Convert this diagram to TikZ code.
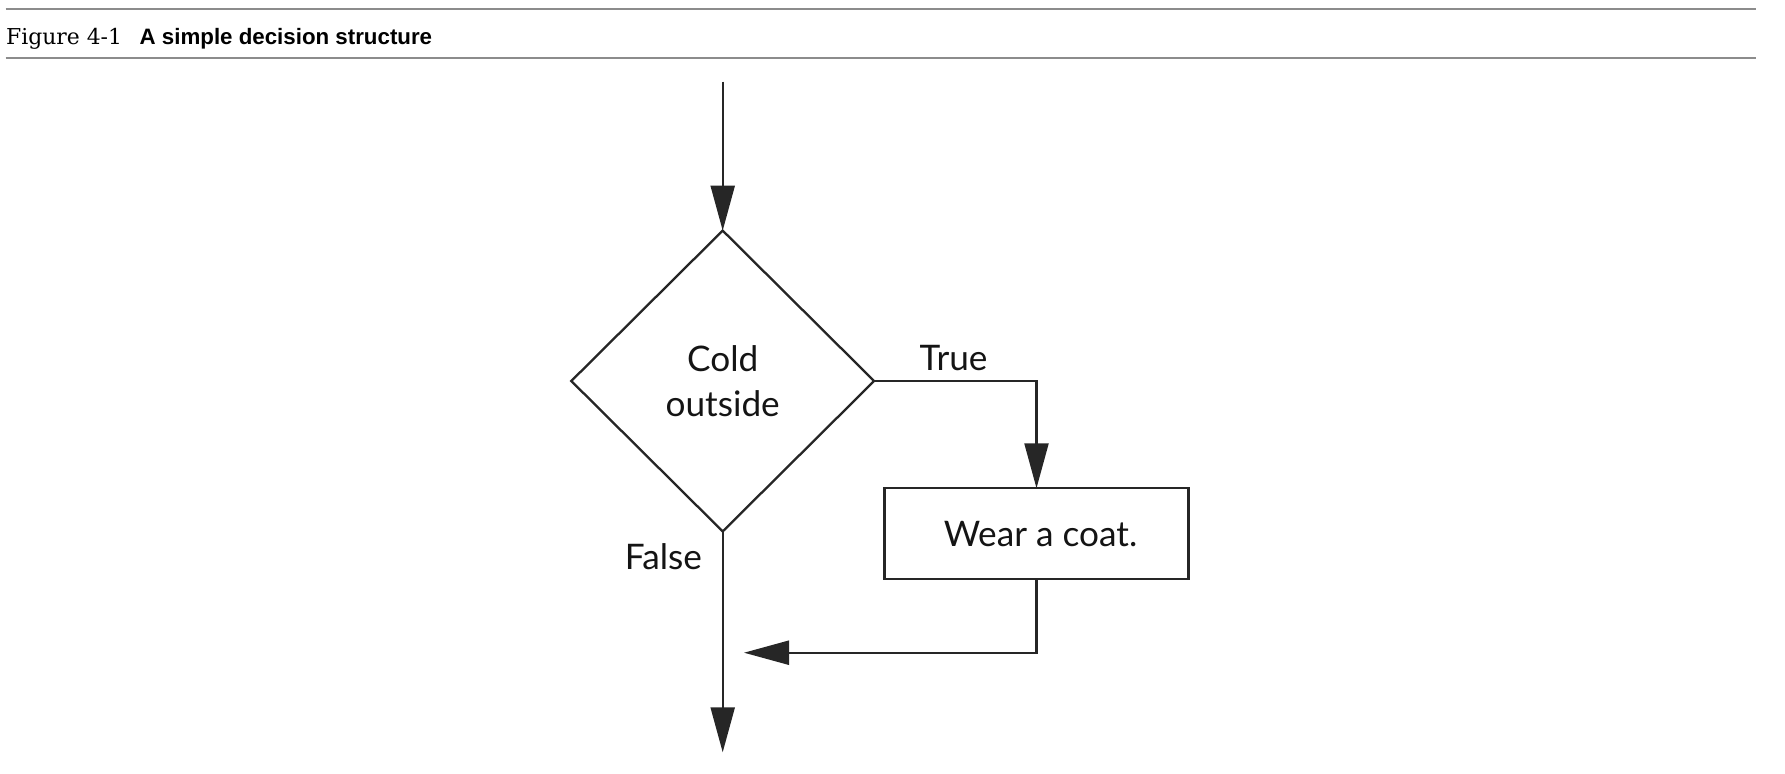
\documentclass[tikz,border=0pt]{standalone}
\usepackage{fontspec}
\setmainfont{Lato}
\newfontfamily\capserif{DejaVu Serif}
\newfontfamily\capsans{Liberation Sans}
\usetikzlibrary{shapes.geometric,arrows.meta}
\definecolor{ink}{HTML}{262626}
\definecolor{rulecol}{HTML}{8C8C8C}
\newcommand\difont{\fontsize{17.6pt}{22.5pt}\selectfont}
\tikzset{
  flow/.style={draw=ink, line width=1.15pt},
  arr/.style={flow, -{Triangle[length=22.5pt,width=12pt]}},
  decision/.style={diamond, draw=ink, line width=1.15pt, minimum width=151.4pt,
    minimum height=150.4pt, inner sep=0pt, outer sep=0pt, align=center,
    font=\difont, text=black!92},
  stepbox/.style={rectangle, draw=ink, line width=1.15pt, minimum width=152pt,
    minimum height=45.5pt, inner sep=0pt, outer sep=0pt, font=\difont, text=black!92},
  lbl/.style={inner sep=0pt, font=\difont, text=black!92},
  rulel/.style={draw=rulecol, line width=1pt},
  captxt/.style={anchor=base west, inner sep=0pt, text=black}
}
\begin{document}
\begin{tikzpicture}[x=0.5pt,y=-0.5pt]
\useasboundingbox (0,0) rectangle (1785,773);
% caption
\coordinate (r1a) at (5.7,9.2);  \coordinate (r1b) at (1756,9.2);
\coordinate (r2a) at (5.7,57.7); \coordinate (r2b) at (1756,57.7);
\draw[rulel] (r1a) -- (r1b);
\draw[rulel] (r2a) -- (r2b);
\node[captxt] (fig) at (5.7,44.3) {\capserif\fontsize{10.95pt}{13pt}\selectfont Figure 4-1};
\node[captxt] (title) at (139.3,44.3) {\capsans\bfseries\fontsize{11.15pt}{13pt}\selectfont A simple decision structure};
% flowchart
\node[decision] (d) at (722.7,381) {Cold\\outside};
\node[stepbox] (box) at (1036.5,533.75) {\hspace*{4pt}Wear a coat.};
\node[lbl, anchor=base] (t) at (953.5,370) {True};
\node[lbl, anchor=base] (f) at (663.5,569.3) {False};
\coordinate (start) at (722.7,81.7);
\coordinate (ret) at (744,652.7);
\coordinate (end) at (722.7,752.3);
\draw[arr] (start) -- (d.north);
\draw[arr] (d.east) -| (box.north);
\draw[arr] (box.south) |- (ret);
\draw[arr] (d.south) -- (end);
\end{tikzpicture}
\end{document}
